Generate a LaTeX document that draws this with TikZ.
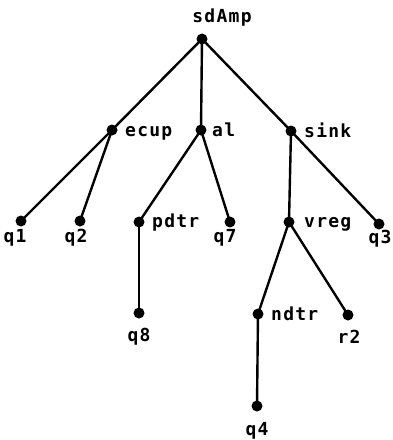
\documentclass[tikz,border=0pt]{standalone}
\usepackage{fontspec}
\newfontfamily\plotfont[LetterSpace=7]{DejaVu Sans Mono}
\begin{document}
\begin{tikzpicture}[x=1pt,y=-1pt,
  dot/.style={circle,fill=black,inner sep=0pt,minimum size=11pt},
  lbl/.style={inner sep=0pt,font=\plotfont\bfseries\fontsize{18pt}{21pt}\selectfont},
  rlbl/.style={lbl,anchor=base west},
  blbl/.style={lbl,anchor=base},
  edge/.style={line width=2.4pt}]
\useasboundingbox[fill=white] (0,0) rectangle (392,440);
% dots
\node[dot] (sdAmp) at (202,39) {};
\node[dot] (ecup) at (112,130) {};
\node[dot] (al) at (201,130) {};
\node[dot] (sink) at (291,131) {};
\node[dot] (q1) at (21,221) {};
\node[dot] (q2) at (80,221) {};
\node[dot] (pdtr) at (139,222) {};
\node[dot] (q7) at (230,222) {};
\node[dot] (vreg) at (289,222) {};
\node[dot] (q3) at (379,224) {};
\node[dot] (q8) at (139,313) {};
\node[dot] (ndtr) at (258,314) {};
\node[dot] (r2) at (348,315) {};
\node[dot] (q4) at (257,406) {};
% edges
\draw[edge] (sdAmp.center) -- (ecup.center);
\draw[edge] (sdAmp.center) -- (al.center);
\draw[edge] (sdAmp.center) -- (sink.center);
\draw[edge] (ecup.center) -- (q1.center);
\draw[edge] (ecup.center) -- (q2.center);
\draw[edge] (al.center) -- (pdtr.center);
\draw[edge] (al.center) -- (q7.center);
\draw[edge] (sink.center) -- (vreg.center);
\draw[edge] (sink.center) -- (q3.center);
\draw[edge] (pdtr.center) -- (q8.center);
\draw[edge] (vreg.center) -- (ndtr.center);
\draw[edge] (vreg.center) -- (r2.center);
\draw[edge] (ndtr.center) -- (q4.center);
% labels (baselines)
\node[blbl] (lsdAmp) at (222,22) {sdAmp};
\node[rlbl] (lecup) at (125,136) {ecup};
\node[rlbl] (lal) at (212,136) {al};
\node[rlbl] (lsink) at (304,137) {sink};
\node[blbl] (lq1) at (15,242) {q1};
\node[blbl] (lq2) at (76,242) {q2};
\node[rlbl] (lpdtr) at (152,227) {pdtr};
\node[blbl] (lq7) at (225,242) {q7};
\node[rlbl] (lvreg) at (304,227) {vreg};
\node[blbl] (lq3) at (380,243) {q3};
\node[blbl] (lq8) at (139,341) {q8};
\node[rlbl] (lndtr) at (271,320) {ndtr};
\node[blbl] (lr2) at (349,343) {r2};
\node[blbl] (lq4) at (257,435) {q4};
\end{tikzpicture}
\end{document}
